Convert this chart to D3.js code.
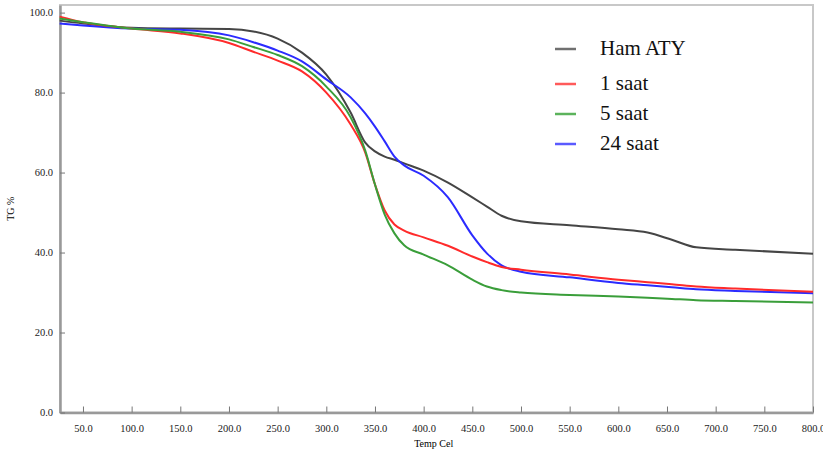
<!DOCTYPE html>
<html>
  <head>
    <meta charset="utf-8" />
    <title>TG curves</title>
    <script src="https://d3js.org/d3.v7.min.js"></script>
    <style>
      body { margin: 0; background: #fff; }
      svg { display: block; }
      text { font-family: "Liberation Serif", "Times New Roman", "DejaVu Serif", serif; }
      .axis text { font-size: 10.5px; fill: #222; }
      .axis .domain { stroke: #999; stroke-width: 2.5; }
      .axis .tick line { stroke: #777; stroke-width: 1; }
      .line { fill: none; stroke-width: 2; }
    </style>
  </head>
  <body>
    <svg width="823" height="457"></svg>
    <script>
      // temperatures (°C)
      const temps = [26, 50, 100, 150, 200, 225, 250, 275, 300, 325, 340, 350, 360, 370, 380,
        400, 425, 450, 465, 480, 500, 550, 600, 630, 655, 680, 720, 800];

      // TG % for each sample
      const hamATY = [98.0, 97.3, 96.2, 96.0, 95.9, 95.3, 93.5, 90.0, 84.5, 75.0, 67.5, 65.3, 64.0, 63.2, 62.3,
        60.5, 57.5, 53.8, 51.5, 49.2, 47.8, 46.8, 45.8, 45.0, 43.2, 41.3, 40.7, 39.7];
      const saat1 = [99.0, 97.6, 96.0, 94.8, 92.4, 90.2, 88.0, 85.3, 80.0, 72.0, 65.0, 57.0, 50.5, 47.0, 45.5,
        43.8, 41.7, 39.0, 37.6, 36.4, 35.7, 34.5, 33.2, 32.6, 32.1, 31.5, 31.0, 30.2];
      const saat5 = [98.5, 97.6, 96.0, 95.2, 93.3, 91.4, 89.4, 86.6, 81.5, 73.8, 65.5, 57.0, 49.5, 44.8, 41.8,
        39.5, 36.8, 33.2, 31.5, 30.6, 30.0, 29.4, 29.0, 28.7, 28.4, 28.1, 27.9, 27.5];
      const saat24 = [97.3, 96.8, 96.0, 95.7, 94.3, 92.6, 90.5, 87.8, 83.3, 78.8, 74.8, 71.5, 67.8, 64.0, 61.8,
        59.2, 53.8, 44.3, 39.8, 36.8, 35.2, 33.8, 32.4, 31.8, 31.3, 30.8, 30.4, 29.8];

      const seriesNames = ["Ham ATY", "1 saat", "5 saat", "24 saat"];
      const xTicks = d3.range(50, 801, 50);
      const yTicks = [0, 20, 40, 60, 80, 100];

      const svg = d3.select("svg");
      const margin = { top: 5, right: 10, bottom: 44.5, left: 60 };
      const width = +svg.attr("width") - margin.left - margin.right;
      const height = +svg.attr("height") - margin.top - margin.bottom;
      const g = svg.append("g")
        .attr("transform", "translate(" + margin.left + "," + margin.top + ")");

      const x = d3.scaleLinear().domain([26.4, 800]).range([0, width]);
      const y = d3.scaleLinear().domain([0, 101.9]).range([height, 0]);

      // frame
      g.append("rect")
        .attr("width", width)
        .attr("height", height)
        .attr("fill", "none")
        .attr("stroke", "#c8c8c8")
        .attr("stroke-width", 2);

      g.append("g")
        .attr("class", "axis axis--x")
        .attr("transform", "translate(0," + height + ")")
        .call(d3.axisBottom(x).tickValues(xTicks).tickFormat(d3.format(".1f"))
          .tickSize(-6).tickSizeOuter(0).tickPadding(12));

      g.append("g")
        .attr("class", "axis axis--y")
        .call(d3.axisLeft(y).tickValues(yTicks).tickFormat(d3.format(".1f"))
          .tickSize(-5).tickSizeOuter(0).tickPadding(7));

      g.append("text")
        .attr("x", x(400) + 10)
        .attr("y", height + 34)
        .attr("text-anchor", "middle")
        .style("font-size", "10px")
        .text("Temp Cel");

      g.append("text")
        .attr("transform", "translate(" + (-46) + "," + (height / 2) + ") rotate(-90)")
        .attr("text-anchor", "middle")
        .style("font-size", "10px")
        .text("TG %");

      const line = d3.line()
        .x((d, i) => x(temps[i]))
        .y((d) => y(d))
        .curve(d3.curveMonotoneX);

      const series = [
        { name: seriesNames[0], values: hamATY, color: "#454545", legend: "#707070" },
        { name: seriesNames[1], values: saat1, color: "#ff2b2b", legend: "#ff5a5a" },
        { name: seriesNames[2], values: saat5, color: "#3a9e3a", legend: "#5cb35c" },
        { name: seriesNames[3], values: saat24, color: "#2b2bff", legend: "#5a5aff" },
      ];

      const drawOrder = [0, 3, 1, 2];
      drawOrder.forEach((k) => {
        g.append("path")
          .datum(series[k].values)
          .attr("class", "line")
          .attr("stroke", series[k].color)
          .attr("d", line);
      });

      // legend
      const legendY = [44, 79, 109, 139];
      const legend = svg.append("g").attr("transform", "translate(555,0)");
      series.forEach((s, i) => {
        legend.append("line")
          .attr("x1", 0).attr("x2", 21)
          .attr("y1", legendY[i] + 5).attr("y2", legendY[i] + 5)
          .attr("stroke", s.legend)
          .attr("stroke-width", 2.5);
        legend.append("text")
          .attr("x", 45)
          .attr("y", legendY[i] + 11)
          .style("font-size", "21px")
          .attr("fill", "#111")
          .text(s.name);
      });
    </script>
  </body>
</html>
